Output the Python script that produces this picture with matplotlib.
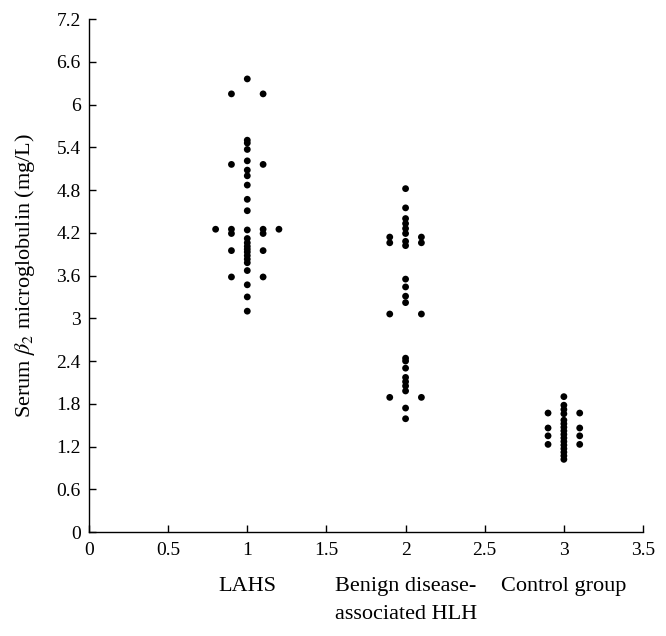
import matplotlib
matplotlib.use("Agg")
import matplotlib.pyplot as plt
import matplotlib.transforms as mtransforms

plt.rcParams['font.family'] = ['Liberation Serif', 'DejaVu Serif']
plt.rcParams['mathtext.fontset'] = 'stix'

# LAHS group
lahs_x = ([1.0] * 22 + [0.9] * 6 + [1.1] * 6 + [0.8, 1.2])
lahs_y = ([6.36, 5.50, 5.46, 5.37, 5.21, 5.08, 5.00, 4.87, 4.67, 4.51, 4.24,
           4.12, 4.06, 4.01, 3.97, 3.93, 3.88, 3.83, 3.78, 3.67, 3.47, 3.30] +
          [6.15, 5.16, 4.25, 4.19, 3.95, 3.58] +
          [6.15, 5.16, 4.25, 4.19, 3.95, 3.58] +
          [4.25, 4.25])
lahs_extra_x = [1.0]
lahs_extra_y = [3.10]

# Benign disease-associated HLH group
benign_x = [2.0] * 21 + [1.9] * 4 + [2.1] * 4
benign_y = ([4.82, 4.55, 4.40, 4.33, 4.26, 4.19, 4.08, 4.02, 3.55, 3.44, 3.31,
             3.22, 2.44, 2.40, 2.30, 2.17, 2.11, 2.05, 1.98, 1.74, 1.59] +
            [4.14, 4.06, 3.06, 1.89] +
            [4.14, 4.06, 3.06, 1.89])

# Control group
control_x = [3.0] * 16 + [2.9] * 4 + [3.1] * 4
control_y = ([1.90, 1.78, 1.72, 1.66, 1.57, 1.52, 1.47, 1.42, 1.37, 1.32,
              1.27, 1.22, 1.17, 1.12, 1.07, 1.02] +
             [1.67, 1.46, 1.35, 1.23] +
             [1.67, 1.46, 1.35, 1.23])

group_positions = [1, 2, 3]
group_labels = ["LAHS", "Benign disease-\nassociated HLH", "Control group"]

x_ticks = [0, 0.5, 1, 1.5, 2, 2.5, 3, 3.5]
x_ticklabels = ["0", "0.5", "1", "1.5", "2", "2.5", "3", "3.5"]
y_ticks = [0, 0.6, 1.2, 1.8, 2.4, 3, 3.6, 4.2, 4.8, 5.4, 6, 6.6, 7.2]
y_ticklabels = ["0", "0.6", "1.2", "1.8", "2.4", "3", "3.6", "4.2", "4.8",
                "5.4", "6", "6.6", "7.2"]

fig = plt.figure(figsize=(6.66, 6.36), dpi=100)
ax = fig.add_axes([0.1336, 0.1635, 0.8319, 0.8065])

for xs, ys in [(lahs_x + lahs_extra_x, lahs_y + lahs_extra_y),
               (benign_x, benign_y), (control_x, control_y)]:
    ax.scatter(xs, ys, s=24, color='black', edgecolors='none', zorder=3)

ax.set_xlim(0, 3.5)
ax.set_ylim(0, 7.2)
ax.set_xticks(x_ticks)
ax.set_xticklabels(x_ticklabels)
ax.set_yticks(y_ticks)
ax.set_yticklabels(y_ticklabels)
ax.spines['top'].set_visible(False)
ax.spines['right'].set_visible(False)
for s in ['left', 'bottom']:
    ax.spines[s].set_linewidth(1.0)
ax.tick_params(direction='in', length=5, width=1.0, labelsize=14)
ax.tick_params(axis='x', pad=7)
ax.tick_params(axis='y', pad=6)

ax.set_ylabel(r"Serum $\beta_2$ microglobulin (mg/L)", fontsize=16, labelpad=14)

trans = mtransforms.blended_transform_factory(ax.transData, ax.transAxes)
for pos, lab in zip(group_positions, group_labels):
    ax.text(pos, -0.088, lab, transform=trans, ha='center', va='top',
            fontsize=16, linespacing=1.6, multialignment='center')

fig.savefig("out.png", dpi=100)
